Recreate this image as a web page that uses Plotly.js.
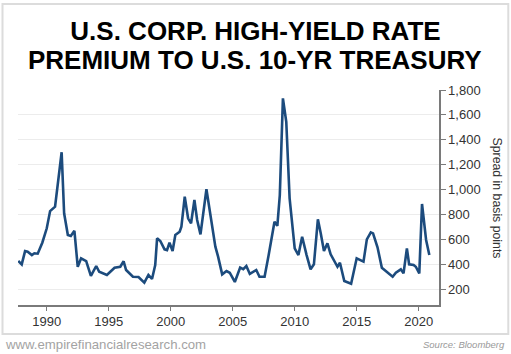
<!DOCTYPE html>
<html>
<head>
<meta charset="utf-8">
<script src="https://cdn.plot.ly/plotly-3.0.1.min.js"></script>
<style>
html, body { margin: 0; padding: 0; background: #fff; }
#chart { width: 511px; height: 354px; }
</style>
</head>
<body>
<div id="chart"></div>
<script>
// Data (decimal year, spread in basis points)
const years = [
  1987.70, 1987.98, 1988.25, 1988.46, 1988.80, 1989.00, 1989.27, 1989.64,
  1990.00, 1990.27, 1990.67, 1991.20, 1991.40, 1991.70, 1991.94, 1992.23,
  1992.50, 1992.77, 1993.18, 1993.56, 1993.99, 1994.23, 1994.85, 1995.47,
  1995.93, 1996.20, 1996.40, 1996.95, 1997.40, 1997.87, 1998.20, 1998.49,
  1998.75, 1998.90, 1999.16, 1999.50, 1999.70, 1999.90, 2000.15, 2000.37,
  2000.72, 2000.86, 2001.13, 2001.40, 2001.64, 2001.91, 2002.13, 2002.40,
  2002.88, 2003.20, 2003.60, 2003.82, 2004.15, 2004.50, 2004.76, 2005.17,
  2005.60, 2005.85, 2006.10, 2006.38, 2006.90, 2007.16, 2007.57, 2007.90,
  2008.37, 2008.60, 2008.80, 2009.05, 2009.32, 2009.59, 2009.80, 2010.00,
  2010.30, 2010.60, 2010.96, 2011.28, 2011.55, 2011.87, 2012.10, 2012.36,
  2012.64, 2012.90, 2013.45, 2013.65, 2014.00, 2014.55, 2015.00, 2015.55,
  2015.82, 2016.14, 2016.32, 2016.68, 2017.03, 2017.50, 2017.90, 2018.16,
  2018.56, 2018.78, 2019.05, 2019.23, 2019.59, 2019.77, 2020.05, 2020.27,
  2020.60, 2020.86
];
const spread = [
  427, 400, 507, 502, 475, 489, 486, 574,
  690, 828, 863, 1300, 810, 636, 628, 670,
  381, 449, 427, 307, 387, 341, 315, 373,
  381, 425, 355, 301, 299, 253, 315, 283,
  395, 609, 588, 521, 515, 574, 507, 636,
  662, 702, 943, 770, 730, 917, 756, 641,
  1003, 810, 542, 462, 320, 347, 333, 259,
  375, 362, 387, 323, 355, 301, 301, 475,
  743, 710, 957, 1733, 1545, 930, 743, 529,
  475, 622, 475, 360, 401, 762, 650, 507,
  569, 481, 381, 413, 267, 244, 449, 422,
  601, 657, 649, 537, 373, 333, 301, 333,
  360, 328, 529, 401, 395, 381, 328, 885,
  596, 475
];
const xTickVals = [1990, 1995, 2000, 2005, 2010, 2015, 2020];
const yTickVals = [200, 400, 600, 800, 1000, 1200, 1400, 1600, 1800];
const titleLine1 = "U.S. CORP. HIGH-YIELD RATE";
const titleLine2 = "PREMIUM TO U.S. 10-YR TREASURY";
const yTitle = "Spread in basis points";
const footerLeft = "www.empirefinancialresearch.com";
const footerRight = "Source: Bloomberg";

const axisColor = "#7a7a7a";
const tickFont = { family: "Liberation Sans, Arial, sans-serif", size: 13, color: "#333" };

const trace = {
  x: years,
  y: spread,
  type: "scatter",
  mode: "lines",
  line: { color: "#1c4b7d", width: 2.6 },
  hoverinfo: "skip"
};

const layout = {
  width: 511,
  height: 354,
  margin: { l: 18, r: 72, t: 90, b: 49 },
  paper_bgcolor: "#fff",
  plot_bgcolor: "#fff",
  showlegend: false,
  xaxis: {
    range: [1987.68, 2021.64],
    tickvals: xTickVals,
    ticktext: xTickVals.map(String),
    showgrid: false,
    zeroline: false,
    showline: true,
    linecolor: axisColor,
    linewidth: 1.5,
    ticks: "outside",
    ticklen: 4,
    tickcolor: axisColor,
    tickwidth: 1,
    tickfont: tickFont
  },
  yaxis: {
    side: "right",
    range: [74, 1800],
    tickvals: yTickVals,
    ticktext: yTickVals.map(v => v.toLocaleString("en-US")),
    showgrid: true,
    gridcolor: "#ececec",
    gridwidth: 1,
    zeroline: false,
    showline: true,
    linecolor: axisColor,
    linewidth: 1.5,
    ticks: "outside",
    ticklen: 5,
    tickcolor: axisColor,
    tickwidth: 1,
    tickfont: tickFont
  },
  title: {
    text: titleLine1,
    font: { family: "Liberation Sans, Arial, sans-serif", size: 26, color: "#000", weight: "bold" },
    xref: "paper", x: 0.5641, xanchor: "center",
    yref: "container", y: 1 - 31 / 354, yanchor: "middle",
    pad: { t: 0, b: 0, l: 0, r: 0 }
  },
  annotations: [
    {
      text: titleLine2,
      xref: "paper", yref: "paper",
      x: 0.5641, y: (305 - 60) / 215,
      xanchor: "center", yanchor: "middle",
      showarrow: false,
      font: { family: "Liberation Sans, Arial, sans-serif", size: 26, color: "#000", weight: "bold" }
    },
    {
      text: yTitle,
      xref: "paper", yref: "paper",
      x: (497 - 18) / 421, y: 0.5,
      xanchor: "center", yanchor: "middle",
      textangle: 90,
      showarrow: false,
      font: { family: "Liberation Sans, Arial, sans-serif", size: 12.3, color: "#333" }
    },
    {
      text: footerLeft,
      xref: "paper", yref: "paper",
      x: (3 - 18) / 421, y: (305 - 344) / 215,
      xanchor: "left", yanchor: "middle",
      showarrow: false,
      font: { family: "Liberation Sans, Arial, sans-serif", size: 13.2, color: "#a3a3a3" }
    },
    {
      text: "<i>" + footerRight + "</i>",
      xref: "paper", yref: "paper",
      x: (507 - 18) / 421, y: (305 - 344) / 215,
      xanchor: "right", yanchor: "middle",
      showarrow: false,
      font: { family: "Liberation Sans, Arial, sans-serif", size: 9.5, color: "#9a9a9a" }
    }
  ],
  shapes: [
    {
      type: "rect",
      xref: "paper", yref: "paper",
      x0: (2.5 - 18) / 421, x1: (508.3 - 18) / 421,
      y0: (305 - 334) / 215, y1: (305 - 4) / 215,
      line: { color: "#dcdcdc", width: 2 },
      fillcolor: "rgba(0,0,0,0)",
      layer: "below"
    }
  ]
};

Plotly.newPlot("chart", [trace], layout, { staticPlot: true, displayModeBar: false });
</script>
</body>
</html>
